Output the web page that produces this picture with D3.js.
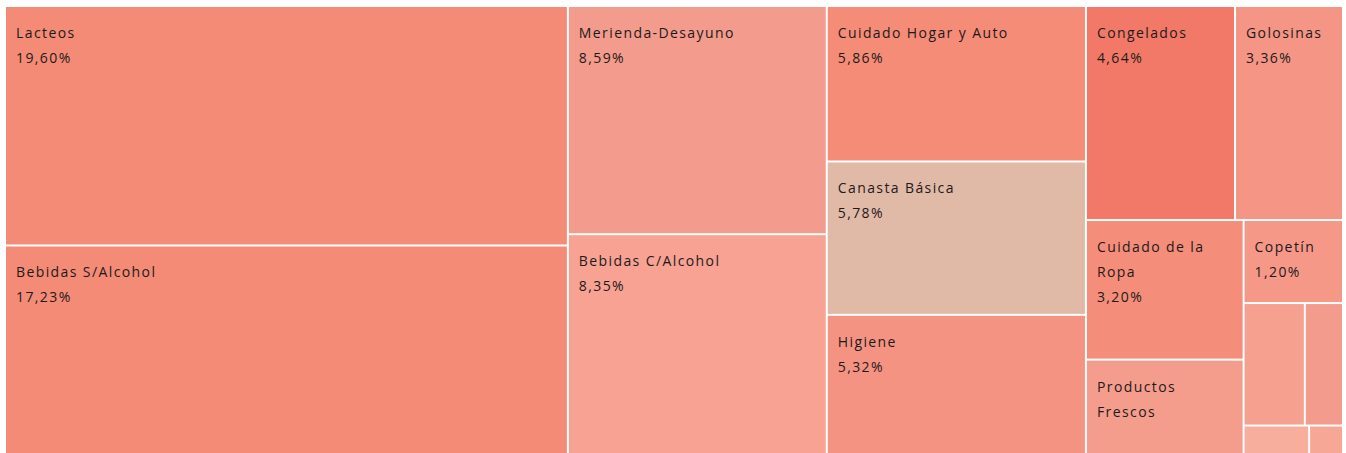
<!DOCTYPE html>
<html>
<head>
<meta charset="utf-8">
<script src="https://cdn.jsdelivr.net/npm/d3@7"></script>
<style>
  body { margin: 0; background: #fff; }
  svg text { font-family: "Open Sans", sans-serif; font-size: 14px; letter-spacing: 1.4px; fill: #1e1a1b; }
</style>
</head>
<body>
<div id="container"></div>
<script>
/* DATA */
const categorias = [
  "Lacteos", "Bebidas S/Alcohol", "Merienda-Desayuno", "Bebidas C/Alcohol",
  "Cuidado Hogar y Auto", "Canasta Básica", "Higiene", "Congelados",
  "Golosinas", "Cuidado de la Ropa", "Productos Frescos", "Copetín",
  "Mascotas", "Panadería", "Bazar", "Otros"
];
// participacion (%) - los ultimos estimados del tamaño de cada celda
const participacion = [19.60, 17.23, 8.59, 8.35, 5.86, 5.78, 5.32, 4.64, 3.36, 3.20, 2.21, 1.20, 1.09, 0.68, 0.29, 0.15];

/* STYLE */
const paleta = [
  "#f48b76", "#f48b76", "#f39b8c", "#f7a293", "#f58c77", "#e1b9a7", "#f49381", "#f27968",
  "#f49585", "#f48d79", "#f59d8d", "#f59888", "#f6a08f", "#f39b8c", "#f8ae9c", "#f6a795"
];

/* CONSTANTS */
const width = 1346, height = 453;
const marginLeft = 6, marginTop = 7;
const mapW = 1338, mapH = 450;   // the map runs a little past the bottom of the page
const gap = 2;         // white line between cells
const pad = 10;        // text padding
const lineH = 25;

const color = d3.scaleOrdinal().domain(categorias).range(paleta);
const fmt = d3.formatLocale({decimal: ",", thousands: ".", grouping: [3], currency: ["$", ""]}).format(".2f");

const root = d3.hierarchy({children: categorias.map((c, i) => ({name: c, value: participacion[i]}))})
  .sum(d => d.value || 0);

d3.treemap()
  .tile(d3.treemapSquarify)
  .size([mapW, mapH])(root);

const svg = d3.select("#container").append("svg")
  .attr("width", width)
  .attr("height", height);

const g = svg.append("g").attr("transform", `translate(${marginLeft},${marginTop})`);

const cell = g.selectAll("g.cell")
  .data(root.leaves())
  .join("g")
  .attr("class", "cell")
  .attr("transform", d => `translate(${d.x0},${d.y0})`);

cell.append("rect")
  .attr("width", d => Math.max(0, d.x1 - d.x0 - gap))
  .attr("height", d => Math.max(0, d.y1 - d.y0 - gap))
  .attr("fill", d => color(d.data.name));

// measure helper
const probe = svg.append("text").attr("x", -1000).attr("y", -1000);
function textW(s) { probe.text(s); return probe.node().getComputedTextLength(); }

cell.each(function (d) {
  const w = d.x1 - d.x0 - gap, h = d.y1 - d.y0 - gap;
  const avail = w - 2 * pad - 4;
  const words = d.data.name.split(" ");
  if (words.some(wd => textW(wd) > avail)) return;
  const lines = [];
  let cur = "";
  words.forEach(wd => {
    const test = cur ? cur + " " + wd : wd;
    if (cur && textW(test) > avail) { lines.push(cur); cur = wd; }
    else cur = test;
  });
  lines.push(cur);
  lines.push(fmt(d.data.value) + "%");
  const sel = d3.select(this);
  lines.forEach((ln, i) => {
    const y = 31 + i * lineH;
    if (y + 18 > h + gap) return;
    sel.append("text").attr("x", pad).attr("y", y).text(ln);
  });
});
probe.remove();
</script>
</body>
</html>
